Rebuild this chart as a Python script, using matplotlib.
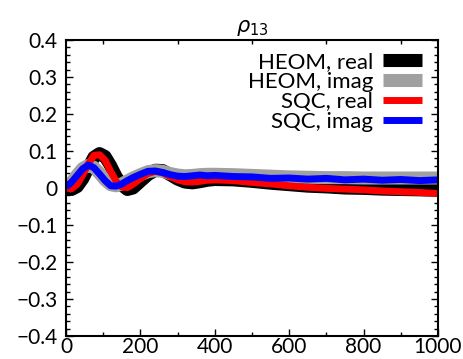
import matplotlib
matplotlib.use('Agg')
import matplotlib.pyplot as plt
from matplotlib.ticker import MultipleLocator
import numpy as np

# time axis
t = [0, 15, 30, 45, 60, 75, 90, 105, 120, 135, 150, 165, 180, 200, 220, 240, 260, 280,
     300, 320, 340, 360, 380, 400, 450, 500, 550, 600, 650, 700, 750, 800, 850, 900, 950, 1000]

heom_real = [0.0, -0.004, 0.004, 0.025, 0.055, 0.083, 0.093, 0.085, 0.06, 0.03, 0.008, -0.004,
             0.0, 0.018, 0.036, 0.048, 0.047, 0.036, 0.024, 0.016, 0.014, 0.017, 0.021, 0.023,
             0.022, 0.018, 0.013, 0.009, 0.005, 0.003, 0.0, -0.001, -0.003, -0.004, -0.005, -0.006]
heom_imag = [0.0, 0.015, 0.035, 0.053, 0.061, 0.056, 0.04, 0.022, 0.009, 0.006, 0.011, 0.019,
             0.027, 0.036, 0.044, 0.047, 0.045, 0.039, 0.035, 0.033, 0.034, 0.036, 0.037, 0.037,
             0.036, 0.034, 0.032, 0.03, 0.029, 0.028, 0.028, 0.027, 0.027, 0.027, 0.027, 0.027]
sqc_real = [0.0, -0.002, 0.01, 0.035, 0.065, 0.088, 0.09, 0.075, 0.045, 0.018, 0.003, 0.001,
            0.01, 0.025, 0.039, 0.045, 0.041, 0.031, 0.022, 0.017, 0.016, 0.018, 0.021, 0.022,
            0.02, 0.015, 0.011, 0.006, 0.002, -0.001, -0.003, -0.005, -0.008, -0.01, -0.012, -0.015]
sqc_imag = [0.003, 0.016, 0.034, 0.052, 0.062, 0.055, 0.038, 0.02, 0.006, 0.005, 0.011, 0.02,
            0.028, 0.037, 0.045, 0.046, 0.042, 0.036, 0.032, 0.031, 0.033, 0.035, 0.033, 0.034,
            0.031, 0.03, 0.026, 0.027, 0.024, 0.026, 0.022, 0.024, 0.021, 0.023, 0.02, 0.022]

labels = ['HEOM, real', 'HEOM, imag', 'SQC, real', 'SQC, imag']
colors = ['#000000', '#a0a0a0', '#ff0000', '#0000ff']
widths = [9.4, 9.4, 5.0, 5.0]

plt.rcParams['font.family'] = ['Lato', 'DejaVu Sans']
plt.rcParams['mathtext.fontset'] = 'dejavusans'

fig = plt.figure(figsize=(4.64, 3.59), dpi=100)
ax = fig.add_axes([66/464, 23/359, 372/464, 296/359])

series = [heom_real, heom_imag, sqc_real, sqc_imag]
for y, c, lw, lab in zip(series, colors, widths, labels):
    ax.plot(t, y, color=c, lw=lw, label=lab, solid_capstyle='butt')

ax.set_xlim(0, 1000)
ax.set_ylim(-0.4, 0.4)
ax.xaxis.set_major_locator(MultipleLocator(200))
ax.xaxis.set_minor_locator(MultipleLocator(100))
ax.yaxis.set_major_locator(MultipleLocator(0.1))
ax.yaxis.set_minor_locator(MultipleLocator(0.02))
ax.set_yticklabels(['0' if abs(v) < 1e-9 else ('%.1f' % v).replace('-', '\u2212')
                    for v in ax.get_yticks()])

for s in ax.spines.values():
    s.set_linewidth(1.5)
ax.tick_params(axis='both', which='both', direction='in', labelsize=15, width=1.0)
ax.tick_params(axis='both', which='major', length=5)
ax.tick_params(axis='both', which='minor', length=3)
ax.tick_params(axis='y', which='both', left=True, right=True, pad=6)
ax.tick_params(axis='x', which='major', top=False, pad=1)
ax.tick_params(axis='x', which='minor', top=True)

ax.set_title(r'$\rho_{13}$', fontsize=15, pad=6)

# legend: text on the left, thick bars on the right
leg = ax.legend(loc='upper right', bbox_to_anchor=(1 - 16/372, 1 - 12/296),
                frameon=False, fontsize=16, markerfirst=False,
                handlelength=1.75, handletextpad=0.45, labelspacing=0.0,
                borderaxespad=0, borderpad=0)

fig.savefig('out.png', dpi=100)
